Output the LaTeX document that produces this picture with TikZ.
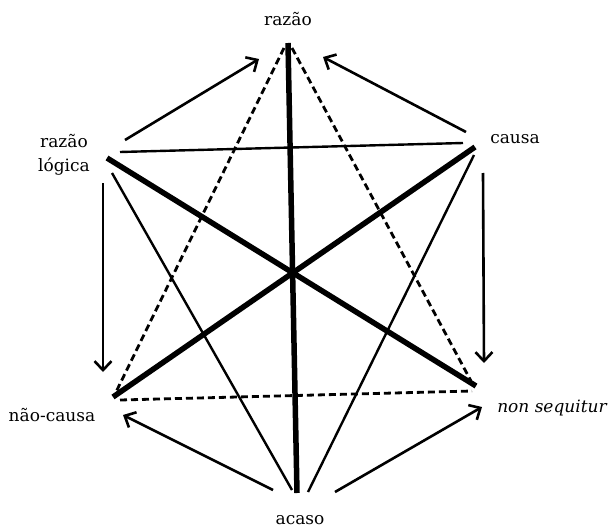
\documentclass[tikz,border=0pt]{standalone}
\usepackage{fontspec}
\setmainfont{DejaVu Serif}
\usetikzlibrary{arrows.meta}
\begin{document}
\begin{tikzpicture}[x=1pt,y=-1pt,
  thickline/.style={line width=5.5pt},
  thinline/.style={line width=2.4pt},
  dashline/.style={line width=2.8pt, dash pattern=on 7pt off 4pt},
  arrowline/.style={line width=2.6pt, -{Straight Barb[length=9pt,width=17pt,line width=2.6pt]}},
  lbl/.style={font=\fontsize{17}{24}\selectfont, inner sep=0pt}]
\useasboundingbox (0,0) rectangle (613,527);
% vertices
\coordinate (R) at (288,43);
\coordinate (L) at (107,158);
\coordinate (C) at (475,147);
\coordinate (N) at (113,397);
\coordinate (S) at (476,386);
\coordinate (A) at (297,493);
% offset ends of thin and dashed lines
\coordinate (Lh) at (120,152);
\coordinate (Ch) at (463,143);
\coordinate (La) at (112,173);
\coordinate (Al) at (292,490);
\coordinate (Ca) at (474,155);
\coordinate (Ar) at (308,492);
\coordinate (Rl) at (284,48);
\coordinate (Nr) at (116,392);
\coordinate (Rr) at (292,48);
\coordinate (Sr) at (471,381);
\coordinate (Nd) at (120,400);
\coordinate (Sd) at (472,391);
% arrow ends
\coordinate (a1s) at (125,140); \coordinate (a1e) at (259,59);
\coordinate (a2s) at (466,132); \coordinate (a2e) at (323,57);
\coordinate (a3s) at (103,183); \coordinate (a3e) at (103,372);
\coordinate (a4s) at (483,173); \coordinate (a4e) at (484,363);
\coordinate (a5s) at (273,490); \coordinate (a5e) at (123,415);
\coordinate (a6s) at (335,492); \coordinate (a6e) at (482,407);
% thick lines
\draw[thickline] (R) -- (A);
\draw[thickline] (L) -- (S);
\draw[thickline] (C) -- (N);
% thin lines
\draw[thinline] (Lh) -- (Ch);
\draw[thinline] (La) -- (Al);
\draw[thinline] (Ca) -- (Ar);
% dashed lines
\draw[dashline] (Rl) -- (Nr);
\draw[dashline] (Rr) -- (Sr);
\draw[dashline] (Nd) -- (Sd);
% arrows
\draw[arrowline] (a1s) -- (a1e);
\draw[arrowline] (a2s) -- (a2e);
\draw[arrowline] (a3s) -- (a3e);
\draw[arrowline] (a4s) -- (a4e);
\draw[arrowline] (a5s) -- (a5e);
\draw[arrowline] (a6s) -- (a6e);
% labels
\node[lbl, anchor=base] (tR) at (288,26) {razão};
\node[lbl, align=center] (tL) at (64,155) {razão\\lógica};
\node[lbl, anchor=base] (tC) at (515,143) {causa};
\node[lbl, anchor=base] (tN) at (52,421) {não-causa};
\node[lbl, anchor=base] (tS) at (552,412) {\itshape non sequitur};
\node[lbl, anchor=base] (tA) at (300,524) {acaso};
\end{tikzpicture}
\end{document}
